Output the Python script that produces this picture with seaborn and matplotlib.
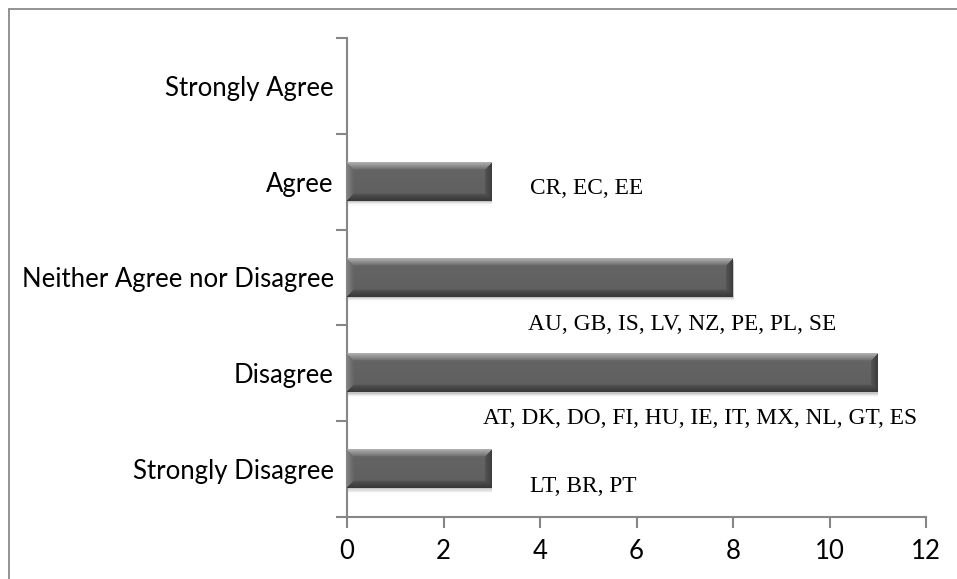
import numpy as np
import pandas as pd
import matplotlib
matplotlib.use("Agg")
import matplotlib.pyplot as plt
from matplotlib.patches import Rectangle
import seaborn as sns

# Survey responses: number of countries per answer
categories = ["Strongly Agree", "Agree", "Neither Agree nor Disagree",
              "Disagree", "Strongly Disagree"]
counts = [0, 3, 8, 11, 3]
country_labels = ["", "CR, EC, EE", "AU, GB, IS, LV, NZ, PE, PL, SE",
                  "AT, DK, DO, FI, HU, IE, IT, MX, NL, GT, ES", "LT, BR, PT"]
x_ticks = [0, 2, 4, 6, 8, 10, 12]

# where each country list sits (x in data units, y offset in category units)
label_x = [0, 3.80, 3.75, 2.82, 3.80]
label_dy = [0, 0.07, 0.49, 0.47, 0.18]

df = pd.DataFrame({"answer": categories, "count": counts})

sns.set_theme(style="white")
plt.rcParams["font.family"] = ["Lato", "DejaVu Sans"]

W, H, DPI = 957, 579, 100
fig = plt.figure(figsize=(W / DPI, H / DPI), dpi=DPI)
fig.patch.set_facecolor("white")

# outer chart frame (top and left edges visible)
frame_col = "#8a8a8a"
fig.add_artist(plt.Line2D([8.5 / W, 1.0], [1 - 8.5 / H, 1 - 8.5 / H],
                          transform=fig.transFigure, color=frame_col, lw=1.3))
fig.add_artist(plt.Line2D([8.5 / W, 8.5 / W], [0.0, 1 - 8.5 / H],
                          transform=fig.transFigure, color=frame_col, lw=1.3))

ax_l, ax_r, ax_t, ax_b = 347, 926, 38, 517
ax = fig.add_axes([ax_l / W, 1 - ax_b / H, (ax_r - ax_l) / W, (ax_b - ax_t) / H])

bar_h = 0.4
sns.barplot(data=df, x="count", y="answer", order=categories, orient="h",
            width=bar_h, color="#5d5d5d", ax=ax, zorder=3)

ax.set_xlim(0, 12)
ax.set_ylim(len(categories) - 0.5, -0.5)
ax.set_xlabel("")
ax.set_ylabel("")
ax.set_xticks(x_ticks)
ax.set_xticklabels([str(t) for t in x_ticks])
ax.set_yticks(range(len(categories)))
ax.set_yticklabels(categories)

axis_col = "#868686"
for side in ["top", "right"]:
    ax.spines[side].set_visible(False)
for side in ["left", "bottom"]:
    ax.spines[side].set_color(axis_col)
    ax.spines[side].set_linewidth(1.5)

# category boundaries carry the y tick marks
ax.set_yticks(np.arange(-0.5, len(categories)), minor=True)
ax.tick_params(axis="y", which="major", left=True, length=0, pad=9.5,
               labelsize=18.5, labelcolor="black")
ax.tick_params(axis="y", which="minor", left=True, length=8, width=1.5,
               color=axis_col, direction="out")
ax.tick_params(axis="x", which="major", bottom=True, length=8, width=1.5,
               color=axis_col, direction="out", pad=7.5, labelsize=18.5,
               labelcolor="black")


def bevel_image(wpx, hpx, bev=7):
    """Shaded RGB block with light upper/left and dark lower/right bevels."""
    img = np.zeros((hpx, wpx, 3))
    ii, jj = np.mgrid[0:hpx, 0:wpx]
    dt, db = ii, hpx - 1 - ii
    dl, dr = jj, wpx - 1 - jj
    dmin = np.minimum(np.minimum(dt, db), np.minimum(dl, dr))
    face = 0.37 + 0.03 * (1 - ii / max(hpx - 1, 1))
    val = face.copy()
    t = np.clip(dmin / bev, 0, 1)
    top = (dt == dmin) & (dmin < bev)
    bot = (db == dmin) & (dmin < bev) & ~top
    left = (dl == dmin) & (dmin < bev) & ~top & ~bot
    right = (dr == dmin) & (dmin < bev) & ~top & ~bot & ~left
    val[top] = (0.68 * (1 - t) + 0.42 * t)[top]
    val[bot] = (0.22 * (1 - t) + 0.33 * t)[bot]
    val[left] = (0.50 * (1 - t) + 0.38 * t)[left]
    val[right] = (0.24 * (1 - t) + 0.34 * t)[right]
    img[..., 0] = img[..., 1] = img[..., 2] = val
    return img


px_per_unit = (ax_r - ax_l) / 12
px_per_cat = (ax_b - ax_t) / len(categories)
for patch in list(ax.patches):
    w = patch.get_width()
    patch.set_visible(False)
    if w <= 0:
        continue
    x0, y0, h = patch.get_x(), patch.get_y(), patch.get_height()
    # soft drop shadow beneath the bar
    for k, a in enumerate([0.10, 0.07, 0.045, 0.025]):
        off = (k + 1) * 1.2 / px_per_cat
        ax.add_patch(Rectangle((x0 + 0.5 / px_per_unit, y0 + off), w, h,
                               facecolor="black", edgecolor="none", alpha=a,
                               zorder=2))
    wpx = max(int(round(w * px_per_unit)), 2)
    hpx = max(int(round(h * px_per_cat)), 2)
    ax.imshow(bevel_image(wpx, hpx), extent=(x0, x0 + w, y0 + h, y0),
              aspect="auto", interpolation="bilinear", zorder=4)

ax.set_xlim(0, 12)
ax.set_ylim(len(categories) - 0.5, -0.5)

for i, lab in enumerate(country_labels):
    if not lab:
        continue
    ax.text(label_x[i], i + label_dy[i], lab, ha="left", va="center",
            fontsize=16.8, family=["Liberation Serif", "DejaVu Serif"],
            color="black", zorder=5)

fig.savefig("out.png", dpi=DPI, facecolor="white")
